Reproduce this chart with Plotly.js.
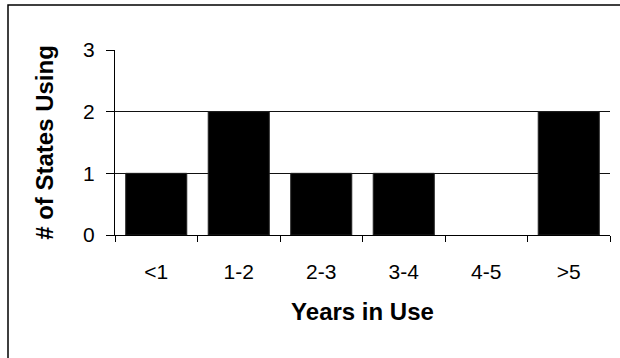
<!DOCTYPE html>
<html>
<head>
<meta charset="utf-8">
<script src="https://cdn.plot.ly/plotly-3.0.1.min.js"></script>
<style>
html,body{margin:0;padding:0;background:#fff;}
#chart{width:620px;height:358px;}
</style>
</head>
<body>
<div id="chart"></div>
<script>
const categories = ["<1", "1-2", "2-3", "3-4", "4-5", ">5"];
const statesUsing = [1, 2, 1, 1, 0, 2];
const yTickValues = [0, 1, 2, 3];

const W = 620, H = 358;
const M = {l: 115, r: 10, t: 50, b: 123};
const pw = W - M.l - M.r, ph = H - M.t - M.b;
const px = x => (x - M.l) / pw;
const py = y => 1 - (y - M.t) / ph;

const trace = {
  type: 'bar',
  x: categories,
  y: statesUsing,
  marker: {color: '#000000', line: {color: '#222222', width: statesUsing.map(v => v > 0 ? 1 : 0)}},
  hoverinfo: 'skip'
};

const layout = {
  width: W, height: H,
  margin: M,
  paper_bgcolor: '#ffffff',
  plot_bgcolor: '#ffffff',
  bargap: 0.26,
  showlegend: false,
  font: {family: '"Liberation Sans", Arial, sans-serif', color: '#000000', size: 20},
  xaxis: {
    type: 'category',
    showline: true, linecolor: '#000000', linewidth: 1,
    ticks: 'outside', tickson: 'boundaries', ticklen: 6, tickcolor: '#000000', tickwidth: 1,
    showgrid: false, zeroline: false,
    tickfont: {size: 21},
    ticklabelstandoff: 18,
    title: {text: 'Years in Use', font: {size: 24, weight: 'bold'}, standoff: 20}
  },
  yaxis: {
    range: [0, 3],
    tickvals: yTickValues,
    showline: true, linecolor: '#000000', linewidth: 1,
    ticks: 'outside', ticklen: 8, tickcolor: '#000000', tickwidth: 1,
    showgrid: true, gridcolor: '#111111', gridwidth: 1,
    zeroline: false,
    tickfont: {size: 21},
    ticklabelstandoff: 7,
    title: {text: '# of States Using', font: {size: 24, weight: 'bold'}, standoff: 22}
  },
  shapes: [{
    type: 'rect', xref: 'paper', yref: 'paper',
    x0: px(8), x1: px(640), y0: py(380), y1: py(5),
    line: {color: '#000000', width: 1.5}, fillcolor: 'rgba(0,0,0,0)', layer: 'below'
  }]
};

Plotly.newPlot('chart', [trace], layout, {displayModeBar: false, staticPlot: true});
</script>
</body>
</html>
